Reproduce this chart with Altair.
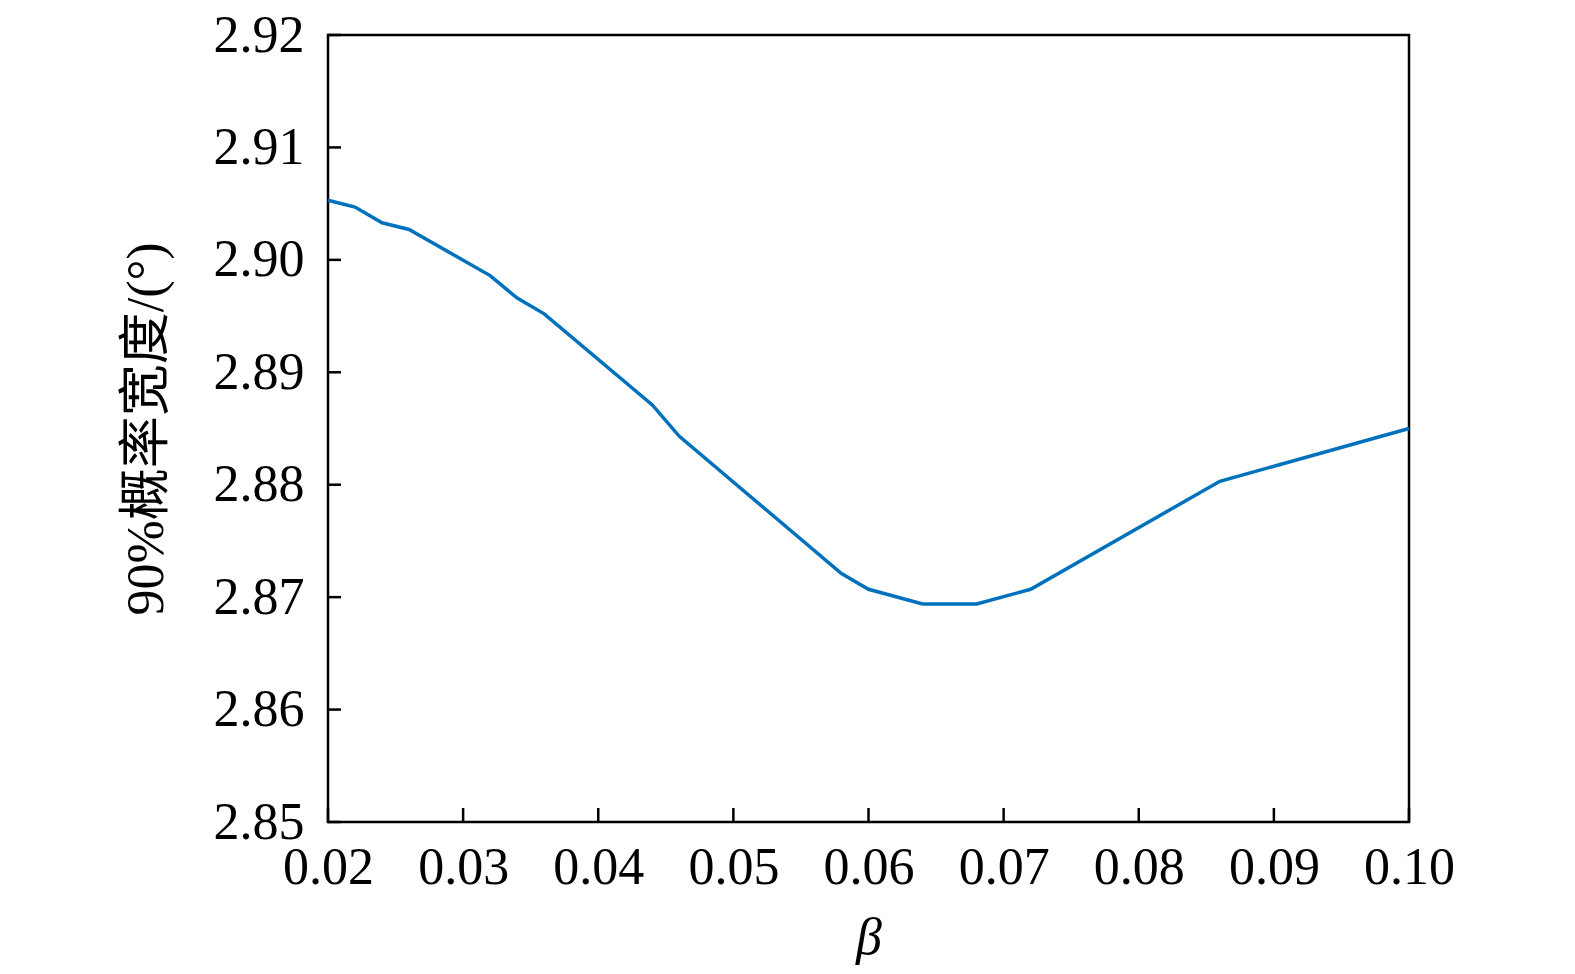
import altair as alt
import pandas as pd

beta = [0.020, 0.022, 0.024, 0.026, 0.032, 0.034, 0.036, 0.044, 0.046,
        0.058, 0.060, 0.064, 0.068, 0.072, 0.086, 0.100]
width90 = [2.9053, 2.9047, 2.9033, 2.9027, 2.8986, 2.8966, 2.8952, 2.8871, 2.8843,
           2.8721, 2.8707, 2.8694, 2.8694, 2.8707, 2.8803, 2.8850]
x_ticks = [0.02, 0.03, 0.04, 0.05, 0.06, 0.07, 0.08, 0.09, 0.10]
y_ticks = [2.85, 2.86, 2.87, 2.88, 2.89, 2.90, 2.91, 2.92]

W, H = 1081, 787
FONT = "Liberation Serif, Noto Sans CJK SC"

df = pd.DataFrame({"beta": beta, "w": width90})
xt = pd.DataFrame({"beta": x_ticks})
yt = pd.DataFrame({"w": y_ticks})

xs = alt.Scale(domain=[0.02, 0.10], nice=False, zero=False)
ys = alt.Scale(domain=[2.85, 2.92], nice=False, zero=False)

x_axis = alt.Axis(values=x_ticks, format=".2f", ticks=False, domain=False, grid=False,
                  labelFlush=False, labelOverlap=False,
                  labelFont=FONT, labelFontSize=52, labelColor="black",
                  labelPadding=20, titleFont=FONT, titleFontSize=52,
                  titleFontStyle="italic", titleFontWeight="normal",
                  titleColor="black", titleY=115, titleBaseline="middle")
y_axis = alt.Axis(values=y_ticks, format=".2f", ticks=False, domain=False, grid=False,
                  labelFlush=False, labelOverlap=False,
                  labelFont=FONT, labelFontSize=52, labelColor="black",
                  labelPadding=24, titleFont=FONT,
                  titleFontSize=52, titleFontWeight="normal", titleColor="black",
                  titleX=-182, titleBaseline="middle")

line = alt.Chart(df).mark_line(color="#0072BD", strokeWidth=3.5).encode(
    x=alt.X("beta:Q", scale=xs, axis=x_axis, title="β"),
    y=alt.Y("w:Q", scale=ys, axis=y_axis, title="90%概率宽度/(°)"),
)

ytick = alt.Chart(yt).mark_rule(color="black", strokeWidth=2.5).encode(
    y=alt.Y("w:Q", scale=ys, axis=y_axis, title="90%概率宽度/(°)"),
    x=alt.value(0), x2=alt.value(13))
xtick = alt.Chart(xt).mark_rule(color="black", strokeWidth=2.5).encode(
    x=alt.X("beta:Q", scale=xs, axis=x_axis, title="β"),
    y=alt.value(H), y2=alt.value(H - 14))

chart = alt.layer(line, ytick, xtick).properties(
    width=W, height=H,
    autosize=alt.AutoSizeParams(type="none"),
    padding={"left": 320, "top": 27, "right": 150, "bottom": 150},
    background="white",
).configure_view(stroke="black", strokeWidth=2.5)

chart.save("out.html", embed_options={"renderer": "svg", "actions": False})
